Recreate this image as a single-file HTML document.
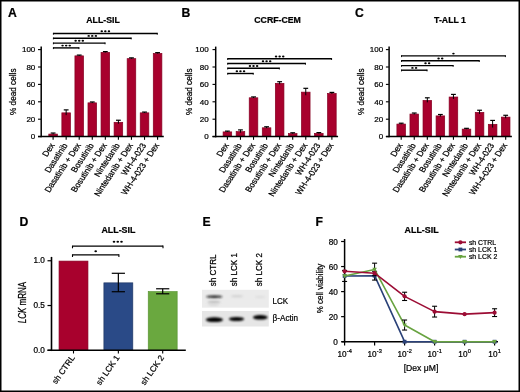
<!DOCTYPE html>
<html><head><meta charset="utf-8"><style>
html,body{margin:0;padding:0;background:#fff;}
svg{display:block;will-change:transform;font-family:"Liberation Sans", sans-serif;}
text{stroke:#000;stroke-width:0.22px;}
</style></head><body>
<svg width="520" height="392" viewBox="0 0 520 392">
<rect x="0" y="0" width="520" height="392" fill="#fff"/>
<text x="8.00" y="16.60" font-size="12.2" text-anchor="start" font-weight="bold" fill="#000">A</text>
<text transform="translate(103.00 22.90) scale(1.03 1)" font-size="8.5" text-anchor="middle" font-weight="bold" fill="#000">ALL-SIL</text>
<rect x="48.80" y="134.08" width="8.60" height="2.17" fill="#a8012d" stroke="#860022" stroke-width="0.7"/>
<rect x="61.86" y="112.85" width="8.60" height="23.40" fill="#a8012d" stroke="#860022" stroke-width="0.7"/>
<rect x="74.92" y="55.87" width="8.60" height="80.38" fill="#a8012d" stroke="#860022" stroke-width="0.7"/>
<rect x="87.98" y="102.85" width="8.60" height="33.40" fill="#a8012d" stroke="#860022" stroke-width="0.7"/>
<rect x="101.04" y="52.39" width="8.60" height="83.86" fill="#a8012d" stroke="#860022" stroke-width="0.7"/>
<rect x="114.10" y="122.33" width="8.60" height="13.92" fill="#a8012d" stroke="#860022" stroke-width="0.7"/>
<rect x="127.16" y="58.65" width="8.60" height="77.60" fill="#a8012d" stroke="#860022" stroke-width="0.7"/>
<rect x="140.22" y="112.85" width="8.60" height="23.40" fill="#a8012d" stroke="#860022" stroke-width="0.7"/>
<rect x="153.28" y="53.43" width="8.60" height="82.82" fill="#a8012d" stroke="#860022" stroke-width="0.7"/>
<line x1="53.10" y1="133.03" x2="53.10" y2="134.42" stroke="#000" stroke-width="1.0" stroke-linecap="butt"/>
<line x1="50.70" y1="133.03" x2="55.50" y2="133.03" stroke="#000" stroke-width="1.2" stroke-linecap="butt"/>
<line x1="66.16" y1="109.89" x2="66.16" y2="115.11" stroke="#000" stroke-width="1.0" stroke-linecap="butt"/>
<line x1="63.76" y1="109.89" x2="68.56" y2="109.89" stroke="#000" stroke-width="1.2" stroke-linecap="butt"/>
<line x1="79.22" y1="55.08" x2="79.22" y2="55.95" stroke="#000" stroke-width="1.0" stroke-linecap="butt"/>
<line x1="76.82" y1="55.08" x2="81.62" y2="55.08" stroke="#000" stroke-width="1.2" stroke-linecap="butt"/>
<line x1="92.28" y1="101.97" x2="92.28" y2="103.02" stroke="#000" stroke-width="1.0" stroke-linecap="butt"/>
<line x1="89.88" y1="101.97" x2="94.68" y2="101.97" stroke="#000" stroke-width="1.2" stroke-linecap="butt"/>
<line x1="105.34" y1="51.60" x2="105.34" y2="52.47" stroke="#000" stroke-width="1.0" stroke-linecap="butt"/>
<line x1="102.94" y1="51.60" x2="107.74" y2="51.60" stroke="#000" stroke-width="1.2" stroke-linecap="butt"/>
<line x1="118.40" y1="120.24" x2="118.40" y2="123.72" stroke="#000" stroke-width="1.0" stroke-linecap="butt"/>
<line x1="116.00" y1="120.24" x2="120.80" y2="120.24" stroke="#000" stroke-width="1.2" stroke-linecap="butt"/>
<line x1="131.46" y1="57.86" x2="131.46" y2="58.73" stroke="#000" stroke-width="1.0" stroke-linecap="butt"/>
<line x1="129.06" y1="57.86" x2="133.86" y2="57.86" stroke="#000" stroke-width="1.2" stroke-linecap="butt"/>
<line x1="144.52" y1="112.07" x2="144.52" y2="112.94" stroke="#000" stroke-width="1.0" stroke-linecap="butt"/>
<line x1="142.12" y1="112.07" x2="146.92" y2="112.07" stroke="#000" stroke-width="1.2" stroke-linecap="butt"/>
<line x1="157.58" y1="52.64" x2="157.58" y2="53.52" stroke="#000" stroke-width="1.0" stroke-linecap="butt"/>
<line x1="155.18" y1="52.64" x2="159.98" y2="52.64" stroke="#000" stroke-width="1.2" stroke-linecap="butt"/>
<line x1="41.20" y1="46.60" x2="41.20" y2="137.35" stroke="#000" stroke-width="1.5" stroke-linecap="butt"/>
<line x1="38.00" y1="136.60" x2="163.78" y2="136.60" stroke="#000" stroke-width="1.5" stroke-linecap="butt"/>
<line x1="38.00" y1="136.60" x2="41.00" y2="136.60" stroke="#000" stroke-width="1.1" stroke-linecap="butt"/>
<text x="35.30" y="139.45" font-size="8.0" text-anchor="end" font-weight="normal" fill="#000">0</text>
<line x1="38.00" y1="119.20" x2="41.00" y2="119.20" stroke="#000" stroke-width="1.1" stroke-linecap="butt"/>
<text x="35.30" y="122.05" font-size="8.0" text-anchor="end" font-weight="normal" fill="#000">20</text>
<line x1="38.00" y1="101.80" x2="41.00" y2="101.80" stroke="#000" stroke-width="1.1" stroke-linecap="butt"/>
<text x="35.30" y="104.65" font-size="8.0" text-anchor="end" font-weight="normal" fill="#000">40</text>
<line x1="38.00" y1="84.40" x2="41.00" y2="84.40" stroke="#000" stroke-width="1.1" stroke-linecap="butt"/>
<text x="35.30" y="87.25" font-size="8.0" text-anchor="end" font-weight="normal" fill="#000">60</text>
<line x1="38.00" y1="67.00" x2="41.00" y2="67.00" stroke="#000" stroke-width="1.1" stroke-linecap="butt"/>
<text x="35.30" y="69.85" font-size="8.0" text-anchor="end" font-weight="normal" fill="#000">80</text>
<line x1="38.00" y1="49.60" x2="41.00" y2="49.60" stroke="#000" stroke-width="1.1" stroke-linecap="butt"/>
<text x="35.30" y="52.45" font-size="8.0" text-anchor="end" font-weight="normal" fill="#000">100</text>
<line x1="53.10" y1="136.60" x2="53.10" y2="139.80" stroke="#000" stroke-width="1.1" stroke-linecap="butt"/>
<line x1="66.16" y1="136.60" x2="66.16" y2="139.80" stroke="#000" stroke-width="1.1" stroke-linecap="butt"/>
<line x1="79.22" y1="136.60" x2="79.22" y2="139.80" stroke="#000" stroke-width="1.1" stroke-linecap="butt"/>
<line x1="92.28" y1="136.60" x2="92.28" y2="139.80" stroke="#000" stroke-width="1.1" stroke-linecap="butt"/>
<line x1="105.34" y1="136.60" x2="105.34" y2="139.80" stroke="#000" stroke-width="1.1" stroke-linecap="butt"/>
<line x1="118.40" y1="136.60" x2="118.40" y2="139.80" stroke="#000" stroke-width="1.1" stroke-linecap="butt"/>
<line x1="131.46" y1="136.60" x2="131.46" y2="139.80" stroke="#000" stroke-width="1.1" stroke-linecap="butt"/>
<line x1="144.52" y1="136.60" x2="144.52" y2="139.80" stroke="#000" stroke-width="1.1" stroke-linecap="butt"/>
<line x1="157.58" y1="136.60" x2="157.58" y2="139.80" stroke="#000" stroke-width="1.1" stroke-linecap="butt"/>
<text transform="translate(55.00 145.20) scale(1.15 1) rotate(-60)" font-size="7.8" text-anchor="end" font-weight="normal" fill="#000">Dex</text>
<text transform="translate(68.06 145.20) scale(1.15 1) rotate(-60)" font-size="7.8" text-anchor="end" font-weight="normal" fill="#000">Dasatinib</text>
<text transform="translate(81.12 145.20) scale(1.15 1) rotate(-60)" font-size="7.8" text-anchor="end" font-weight="normal" fill="#000">Dasatinib + Dex</text>
<text transform="translate(94.18 145.20) scale(1.15 1) rotate(-60)" font-size="7.8" text-anchor="end" font-weight="normal" fill="#000">Bosutinib</text>
<text transform="translate(107.24 145.20) scale(1.15 1) rotate(-60)" font-size="7.8" text-anchor="end" font-weight="normal" fill="#000">Bosutinib + Dex</text>
<text transform="translate(120.30 145.20) scale(1.15 1) rotate(-60)" font-size="7.8" text-anchor="end" font-weight="normal" fill="#000">Nintedanib</text>
<text transform="translate(133.36 145.20) scale(1.15 1) rotate(-60)" font-size="7.8" text-anchor="end" font-weight="normal" fill="#000">Nintedanib + Dex</text>
<text transform="translate(146.42 145.20) scale(1.15 1) rotate(-60)" font-size="7.8" text-anchor="end" font-weight="normal" fill="#000">WH-4-023</text>
<text transform="translate(159.48 145.20) scale(1.15 1) rotate(-60)" font-size="7.8" text-anchor="end" font-weight="normal" fill="#000">WH-4-023 + Dex</text>
<text transform="translate(15.60 91.75) scale(1.15 1) rotate(-90)" font-size="8.2" text-anchor="middle" font-weight="normal" fill="#000">% dead cells</text>
<line x1="53.10" y1="33.50" x2="157.58" y2="33.50" stroke="#000" stroke-width="1.4" stroke-linecap="butt"/>
<line x1="53.40" y1="32.90" x2="53.40" y2="34.70" stroke="#000" stroke-width="0.9" stroke-linecap="butt"/>
<line x1="157.28" y1="32.90" x2="157.28" y2="34.70" stroke="#000" stroke-width="0.9" stroke-linecap="butt"/>
<ellipse cx="101.74" cy="31.20" rx="1.25" ry="0.95" fill="#000"/>
<ellipse cx="105.34" cy="31.20" rx="1.25" ry="0.95" fill="#000"/>
<ellipse cx="108.94" cy="31.20" rx="1.25" ry="0.95" fill="#000"/>
<line x1="53.10" y1="38.20" x2="131.46" y2="38.20" stroke="#000" stroke-width="1.4" stroke-linecap="butt"/>
<line x1="53.40" y1="37.60" x2="53.40" y2="39.40" stroke="#000" stroke-width="0.9" stroke-linecap="butt"/>
<line x1="131.16" y1="37.60" x2="131.16" y2="39.40" stroke="#000" stroke-width="0.9" stroke-linecap="butt"/>
<ellipse cx="88.68" cy="35.90" rx="1.25" ry="0.95" fill="#000"/>
<ellipse cx="92.28" cy="35.90" rx="1.25" ry="0.95" fill="#000"/>
<ellipse cx="95.88" cy="35.90" rx="1.25" ry="0.95" fill="#000"/>
<line x1="53.10" y1="43.10" x2="105.34" y2="43.10" stroke="#000" stroke-width="1.4" stroke-linecap="butt"/>
<line x1="53.40" y1="42.50" x2="53.40" y2="44.30" stroke="#000" stroke-width="0.9" stroke-linecap="butt"/>
<line x1="105.04" y1="42.50" x2="105.04" y2="44.30" stroke="#000" stroke-width="0.9" stroke-linecap="butt"/>
<ellipse cx="75.62" cy="40.80" rx="1.25" ry="0.95" fill="#000"/>
<ellipse cx="79.22" cy="40.80" rx="1.25" ry="0.95" fill="#000"/>
<ellipse cx="82.82" cy="40.80" rx="1.25" ry="0.95" fill="#000"/>
<line x1="53.10" y1="47.90" x2="79.22" y2="47.90" stroke="#000" stroke-width="1.4" stroke-linecap="butt"/>
<line x1="53.40" y1="47.30" x2="53.40" y2="49.10" stroke="#000" stroke-width="0.9" stroke-linecap="butt"/>
<line x1="78.92" y1="47.30" x2="78.92" y2="49.10" stroke="#000" stroke-width="0.9" stroke-linecap="butt"/>
<ellipse cx="62.56" cy="45.60" rx="1.25" ry="0.95" fill="#000"/>
<ellipse cx="66.16" cy="45.60" rx="1.25" ry="0.95" fill="#000"/>
<ellipse cx="69.76" cy="45.60" rx="1.25" ry="0.95" fill="#000"/>
<text x="181.50" y="16.60" font-size="12.2" text-anchor="start" font-weight="bold" fill="#000">B</text>
<text transform="translate(277.60 22.90) scale(1.03 1)" font-size="8.5" text-anchor="middle" font-weight="bold" fill="#000">CCRF-CEM</text>
<rect x="223.10" y="131.90" width="8.60" height="4.35" fill="#a8012d" stroke="#860022" stroke-width="0.7"/>
<rect x="236.16" y="131.64" width="8.60" height="4.61" fill="#a8012d" stroke="#860022" stroke-width="0.7"/>
<rect x="249.22" y="97.80" width="8.60" height="38.45" fill="#a8012d" stroke="#860022" stroke-width="0.7"/>
<rect x="262.28" y="127.81" width="8.60" height="8.44" fill="#a8012d" stroke="#860022" stroke-width="0.7"/>
<rect x="275.34" y="83.36" width="8.60" height="52.89" fill="#a8012d" stroke="#860022" stroke-width="0.7"/>
<rect x="288.40" y="133.64" width="8.60" height="2.61" fill="#a8012d" stroke="#860022" stroke-width="0.7"/>
<rect x="301.46" y="92.14" width="8.60" height="44.11" fill="#a8012d" stroke="#860022" stroke-width="0.7"/>
<rect x="314.52" y="133.38" width="8.60" height="2.87" fill="#a8012d" stroke="#860022" stroke-width="0.7"/>
<rect x="327.58" y="93.45" width="8.60" height="42.80" fill="#a8012d" stroke="#860022" stroke-width="0.7"/>
<line x1="227.40" y1="131.12" x2="227.40" y2="131.99" stroke="#000" stroke-width="1.0" stroke-linecap="butt"/>
<line x1="225.00" y1="131.12" x2="229.80" y2="131.12" stroke="#000" stroke-width="1.2" stroke-linecap="butt"/>
<line x1="240.46" y1="129.90" x2="240.46" y2="132.69" stroke="#000" stroke-width="1.0" stroke-linecap="butt"/>
<line x1="238.06" y1="129.90" x2="242.86" y2="129.90" stroke="#000" stroke-width="1.2" stroke-linecap="butt"/>
<line x1="253.52" y1="96.93" x2="253.52" y2="97.97" stroke="#000" stroke-width="1.0" stroke-linecap="butt"/>
<line x1="251.12" y1="96.93" x2="255.92" y2="96.93" stroke="#000" stroke-width="1.2" stroke-linecap="butt"/>
<line x1="266.58" y1="126.77" x2="266.58" y2="128.16" stroke="#000" stroke-width="1.0" stroke-linecap="butt"/>
<line x1="264.18" y1="126.77" x2="268.98" y2="126.77" stroke="#000" stroke-width="1.2" stroke-linecap="butt"/>
<line x1="279.64" y1="81.70" x2="279.64" y2="84.31" stroke="#000" stroke-width="1.0" stroke-linecap="butt"/>
<line x1="277.24" y1="81.70" x2="282.04" y2="81.70" stroke="#000" stroke-width="1.2" stroke-linecap="butt"/>
<line x1="292.70" y1="132.77" x2="292.70" y2="133.82" stroke="#000" stroke-width="1.0" stroke-linecap="butt"/>
<line x1="290.30" y1="132.77" x2="295.10" y2="132.77" stroke="#000" stroke-width="1.2" stroke-linecap="butt"/>
<line x1="305.76" y1="88.31" x2="305.76" y2="95.27" stroke="#000" stroke-width="1.0" stroke-linecap="butt"/>
<line x1="303.36" y1="88.31" x2="308.16" y2="88.31" stroke="#000" stroke-width="1.2" stroke-linecap="butt"/>
<line x1="318.82" y1="132.60" x2="318.82" y2="133.47" stroke="#000" stroke-width="1.0" stroke-linecap="butt"/>
<line x1="316.42" y1="132.60" x2="321.22" y2="132.60" stroke="#000" stroke-width="1.2" stroke-linecap="butt"/>
<line x1="331.88" y1="92.40" x2="331.88" y2="93.80" stroke="#000" stroke-width="1.0" stroke-linecap="butt"/>
<line x1="329.48" y1="92.40" x2="334.28" y2="92.40" stroke="#000" stroke-width="1.2" stroke-linecap="butt"/>
<line x1="215.70" y1="46.60" x2="215.70" y2="137.35" stroke="#000" stroke-width="1.5" stroke-linecap="butt"/>
<line x1="212.50" y1="136.60" x2="338.08" y2="136.60" stroke="#000" stroke-width="1.5" stroke-linecap="butt"/>
<line x1="212.50" y1="136.60" x2="215.50" y2="136.60" stroke="#000" stroke-width="1.1" stroke-linecap="butt"/>
<text x="208.60" y="139.45" font-size="8.0" text-anchor="end" font-weight="normal" fill="#000">0</text>
<line x1="212.50" y1="119.20" x2="215.50" y2="119.20" stroke="#000" stroke-width="1.1" stroke-linecap="butt"/>
<text x="208.60" y="122.05" font-size="8.0" text-anchor="end" font-weight="normal" fill="#000">20</text>
<line x1="212.50" y1="101.80" x2="215.50" y2="101.80" stroke="#000" stroke-width="1.1" stroke-linecap="butt"/>
<text x="208.60" y="104.65" font-size="8.0" text-anchor="end" font-weight="normal" fill="#000">40</text>
<line x1="212.50" y1="84.40" x2="215.50" y2="84.40" stroke="#000" stroke-width="1.1" stroke-linecap="butt"/>
<text x="208.60" y="87.25" font-size="8.0" text-anchor="end" font-weight="normal" fill="#000">60</text>
<line x1="212.50" y1="67.00" x2="215.50" y2="67.00" stroke="#000" stroke-width="1.1" stroke-linecap="butt"/>
<text x="208.60" y="69.85" font-size="8.0" text-anchor="end" font-weight="normal" fill="#000">80</text>
<line x1="212.50" y1="49.60" x2="215.50" y2="49.60" stroke="#000" stroke-width="1.1" stroke-linecap="butt"/>
<text x="208.60" y="52.45" font-size="8.0" text-anchor="end" font-weight="normal" fill="#000">100</text>
<line x1="227.40" y1="136.60" x2="227.40" y2="139.80" stroke="#000" stroke-width="1.1" stroke-linecap="butt"/>
<line x1="240.46" y1="136.60" x2="240.46" y2="139.80" stroke="#000" stroke-width="1.1" stroke-linecap="butt"/>
<line x1="253.52" y1="136.60" x2="253.52" y2="139.80" stroke="#000" stroke-width="1.1" stroke-linecap="butt"/>
<line x1="266.58" y1="136.60" x2="266.58" y2="139.80" stroke="#000" stroke-width="1.1" stroke-linecap="butt"/>
<line x1="279.64" y1="136.60" x2="279.64" y2="139.80" stroke="#000" stroke-width="1.1" stroke-linecap="butt"/>
<line x1="292.70" y1="136.60" x2="292.70" y2="139.80" stroke="#000" stroke-width="1.1" stroke-linecap="butt"/>
<line x1="305.76" y1="136.60" x2="305.76" y2="139.80" stroke="#000" stroke-width="1.1" stroke-linecap="butt"/>
<line x1="318.82" y1="136.60" x2="318.82" y2="139.80" stroke="#000" stroke-width="1.1" stroke-linecap="butt"/>
<line x1="331.88" y1="136.60" x2="331.88" y2="139.80" stroke="#000" stroke-width="1.1" stroke-linecap="butt"/>
<text transform="translate(229.30 145.20) scale(1.15 1) rotate(-60)" font-size="7.8" text-anchor="end" font-weight="normal" fill="#000">Dex</text>
<text transform="translate(242.36 145.20) scale(1.15 1) rotate(-60)" font-size="7.8" text-anchor="end" font-weight="normal" fill="#000">Dasatinib</text>
<text transform="translate(255.42 145.20) scale(1.15 1) rotate(-60)" font-size="7.8" text-anchor="end" font-weight="normal" fill="#000">Dasatinib + Dex</text>
<text transform="translate(268.48 145.20) scale(1.15 1) rotate(-60)" font-size="7.8" text-anchor="end" font-weight="normal" fill="#000">Bosutinib</text>
<text transform="translate(281.54 145.20) scale(1.15 1) rotate(-60)" font-size="7.8" text-anchor="end" font-weight="normal" fill="#000">Bosutinib + Dex</text>
<text transform="translate(294.60 145.20) scale(1.15 1) rotate(-60)" font-size="7.8" text-anchor="end" font-weight="normal" fill="#000">Nintedanib</text>
<text transform="translate(307.66 145.20) scale(1.15 1) rotate(-60)" font-size="7.8" text-anchor="end" font-weight="normal" fill="#000">Nintedanib + Dex</text>
<text transform="translate(320.72 145.20) scale(1.15 1) rotate(-60)" font-size="7.8" text-anchor="end" font-weight="normal" fill="#000">WH-4-023</text>
<text transform="translate(333.78 145.20) scale(1.15 1) rotate(-60)" font-size="7.8" text-anchor="end" font-weight="normal" fill="#000">WH-4-023 + Dex</text>
<text transform="translate(191.70 91.75) scale(1.15 1) rotate(-90)" font-size="8.2" text-anchor="middle" font-weight="normal" fill="#000">% dead cells</text>
<line x1="227.40" y1="58.80" x2="331.88" y2="58.80" stroke="#000" stroke-width="1.4" stroke-linecap="butt"/>
<line x1="227.70" y1="58.20" x2="227.70" y2="60.00" stroke="#000" stroke-width="0.9" stroke-linecap="butt"/>
<line x1="331.58" y1="58.20" x2="331.58" y2="60.00" stroke="#000" stroke-width="0.9" stroke-linecap="butt"/>
<ellipse cx="276.04" cy="56.50" rx="1.25" ry="0.95" fill="#000"/>
<ellipse cx="279.64" cy="56.50" rx="1.25" ry="0.95" fill="#000"/>
<ellipse cx="283.24" cy="56.50" rx="1.25" ry="0.95" fill="#000"/>
<line x1="227.40" y1="63.50" x2="305.76" y2="63.50" stroke="#000" stroke-width="1.4" stroke-linecap="butt"/>
<line x1="227.70" y1="62.90" x2="227.70" y2="64.70" stroke="#000" stroke-width="0.9" stroke-linecap="butt"/>
<line x1="305.46" y1="62.90" x2="305.46" y2="64.70" stroke="#000" stroke-width="0.9" stroke-linecap="butt"/>
<ellipse cx="262.98" cy="61.20" rx="1.25" ry="0.95" fill="#000"/>
<ellipse cx="266.58" cy="61.20" rx="1.25" ry="0.95" fill="#000"/>
<ellipse cx="270.18" cy="61.20" rx="1.25" ry="0.95" fill="#000"/>
<line x1="227.40" y1="68.30" x2="279.64" y2="68.30" stroke="#000" stroke-width="1.4" stroke-linecap="butt"/>
<line x1="227.70" y1="67.70" x2="227.70" y2="69.50" stroke="#000" stroke-width="0.9" stroke-linecap="butt"/>
<line x1="279.34" y1="67.70" x2="279.34" y2="69.50" stroke="#000" stroke-width="0.9" stroke-linecap="butt"/>
<ellipse cx="249.92" cy="66.00" rx="1.25" ry="0.95" fill="#000"/>
<ellipse cx="253.52" cy="66.00" rx="1.25" ry="0.95" fill="#000"/>
<ellipse cx="257.12" cy="66.00" rx="1.25" ry="0.95" fill="#000"/>
<line x1="227.40" y1="73.50" x2="253.52" y2="73.50" stroke="#000" stroke-width="1.4" stroke-linecap="butt"/>
<line x1="227.70" y1="72.90" x2="227.70" y2="74.70" stroke="#000" stroke-width="0.9" stroke-linecap="butt"/>
<line x1="253.22" y1="72.90" x2="253.22" y2="74.70" stroke="#000" stroke-width="0.9" stroke-linecap="butt"/>
<ellipse cx="236.86" cy="71.20" rx="1.25" ry="0.95" fill="#000"/>
<ellipse cx="240.46" cy="71.20" rx="1.25" ry="0.95" fill="#000"/>
<ellipse cx="244.06" cy="71.20" rx="1.25" ry="0.95" fill="#000"/>
<text x="355.00" y="16.60" font-size="12.2" text-anchor="start" font-weight="bold" fill="#000">C</text>
<text transform="translate(450.00 22.90) scale(1.03 1)" font-size="8.5" text-anchor="middle" font-weight="bold" fill="#000">T-ALL 1</text>
<rect x="396.90" y="124.07" width="8.60" height="12.18" fill="#a8012d" stroke="#860022" stroke-width="0.7"/>
<rect x="409.96" y="114.07" width="8.60" height="22.18" fill="#a8012d" stroke="#860022" stroke-width="0.7"/>
<rect x="423.02" y="100.41" width="8.60" height="35.84" fill="#a8012d" stroke="#860022" stroke-width="0.7"/>
<rect x="436.08" y="115.90" width="8.60" height="20.35" fill="#a8012d" stroke="#860022" stroke-width="0.7"/>
<rect x="449.14" y="97.02" width="8.60" height="39.23" fill="#a8012d" stroke="#860022" stroke-width="0.7"/>
<rect x="462.20" y="129.12" width="8.60" height="7.13" fill="#a8012d" stroke="#860022" stroke-width="0.7"/>
<rect x="475.26" y="112.42" width="8.60" height="23.83" fill="#a8012d" stroke="#860022" stroke-width="0.7"/>
<rect x="488.32" y="124.33" width="8.60" height="11.91" fill="#a8012d" stroke="#860022" stroke-width="0.7"/>
<rect x="501.38" y="117.11" width="8.60" height="19.14" fill="#a8012d" stroke="#860022" stroke-width="0.7"/>
<line x1="401.20" y1="123.20" x2="401.20" y2="124.25" stroke="#000" stroke-width="1.0" stroke-linecap="butt"/>
<line x1="398.80" y1="123.20" x2="403.60" y2="123.20" stroke="#000" stroke-width="1.2" stroke-linecap="butt"/>
<line x1="414.26" y1="113.02" x2="414.26" y2="114.41" stroke="#000" stroke-width="1.0" stroke-linecap="butt"/>
<line x1="411.86" y1="113.02" x2="416.66" y2="113.02" stroke="#000" stroke-width="1.2" stroke-linecap="butt"/>
<line x1="427.32" y1="97.80" x2="427.32" y2="102.32" stroke="#000" stroke-width="1.0" stroke-linecap="butt"/>
<line x1="424.92" y1="97.80" x2="429.72" y2="97.80" stroke="#000" stroke-width="1.2" stroke-linecap="butt"/>
<line x1="440.38" y1="114.50" x2="440.38" y2="116.59" stroke="#000" stroke-width="1.0" stroke-linecap="butt"/>
<line x1="437.98" y1="114.50" x2="442.78" y2="114.50" stroke="#000" stroke-width="1.2" stroke-linecap="butt"/>
<line x1="453.44" y1="94.41" x2="453.44" y2="98.93" stroke="#000" stroke-width="1.0" stroke-linecap="butt"/>
<line x1="451.04" y1="94.41" x2="455.84" y2="94.41" stroke="#000" stroke-width="1.2" stroke-linecap="butt"/>
<line x1="466.50" y1="128.33" x2="466.50" y2="129.20" stroke="#000" stroke-width="1.0" stroke-linecap="butt"/>
<line x1="464.10" y1="128.33" x2="468.90" y2="128.33" stroke="#000" stroke-width="1.2" stroke-linecap="butt"/>
<line x1="479.56" y1="110.24" x2="479.56" y2="113.89" stroke="#000" stroke-width="1.0" stroke-linecap="butt"/>
<line x1="477.16" y1="110.24" x2="481.96" y2="110.24" stroke="#000" stroke-width="1.2" stroke-linecap="butt"/>
<line x1="492.62" y1="120.42" x2="492.62" y2="127.55" stroke="#000" stroke-width="1.0" stroke-linecap="butt"/>
<line x1="490.22" y1="120.42" x2="495.02" y2="120.42" stroke="#000" stroke-width="1.2" stroke-linecap="butt"/>
<line x1="505.68" y1="115.28" x2="505.68" y2="118.24" stroke="#000" stroke-width="1.0" stroke-linecap="butt"/>
<line x1="503.28" y1="115.28" x2="508.08" y2="115.28" stroke="#000" stroke-width="1.2" stroke-linecap="butt"/>
<line x1="389.10" y1="46.60" x2="389.10" y2="137.35" stroke="#000" stroke-width="1.5" stroke-linecap="butt"/>
<line x1="385.90" y1="136.60" x2="511.88" y2="136.60" stroke="#000" stroke-width="1.5" stroke-linecap="butt"/>
<line x1="385.90" y1="136.60" x2="388.90" y2="136.60" stroke="#000" stroke-width="1.1" stroke-linecap="butt"/>
<text x="383.20" y="139.45" font-size="8.0" text-anchor="end" font-weight="normal" fill="#000">0</text>
<line x1="385.90" y1="119.20" x2="388.90" y2="119.20" stroke="#000" stroke-width="1.1" stroke-linecap="butt"/>
<text x="383.20" y="122.05" font-size="8.0" text-anchor="end" font-weight="normal" fill="#000">20</text>
<line x1="385.90" y1="101.80" x2="388.90" y2="101.80" stroke="#000" stroke-width="1.1" stroke-linecap="butt"/>
<text x="383.20" y="104.65" font-size="8.0" text-anchor="end" font-weight="normal" fill="#000">40</text>
<line x1="385.90" y1="84.40" x2="388.90" y2="84.40" stroke="#000" stroke-width="1.1" stroke-linecap="butt"/>
<text x="383.20" y="87.25" font-size="8.0" text-anchor="end" font-weight="normal" fill="#000">60</text>
<line x1="385.90" y1="67.00" x2="388.90" y2="67.00" stroke="#000" stroke-width="1.1" stroke-linecap="butt"/>
<text x="383.20" y="69.85" font-size="8.0" text-anchor="end" font-weight="normal" fill="#000">80</text>
<line x1="385.90" y1="49.60" x2="388.90" y2="49.60" stroke="#000" stroke-width="1.1" stroke-linecap="butt"/>
<text x="383.20" y="52.45" font-size="8.0" text-anchor="end" font-weight="normal" fill="#000">100</text>
<line x1="401.20" y1="136.60" x2="401.20" y2="139.80" stroke="#000" stroke-width="1.1" stroke-linecap="butt"/>
<line x1="414.26" y1="136.60" x2="414.26" y2="139.80" stroke="#000" stroke-width="1.1" stroke-linecap="butt"/>
<line x1="427.32" y1="136.60" x2="427.32" y2="139.80" stroke="#000" stroke-width="1.1" stroke-linecap="butt"/>
<line x1="440.38" y1="136.60" x2="440.38" y2="139.80" stroke="#000" stroke-width="1.1" stroke-linecap="butt"/>
<line x1="453.44" y1="136.60" x2="453.44" y2="139.80" stroke="#000" stroke-width="1.1" stroke-linecap="butt"/>
<line x1="466.50" y1="136.60" x2="466.50" y2="139.80" stroke="#000" stroke-width="1.1" stroke-linecap="butt"/>
<line x1="479.56" y1="136.60" x2="479.56" y2="139.80" stroke="#000" stroke-width="1.1" stroke-linecap="butt"/>
<line x1="492.62" y1="136.60" x2="492.62" y2="139.80" stroke="#000" stroke-width="1.1" stroke-linecap="butt"/>
<line x1="505.68" y1="136.60" x2="505.68" y2="139.80" stroke="#000" stroke-width="1.1" stroke-linecap="butt"/>
<text transform="translate(403.10 145.20) scale(1.15 1) rotate(-60)" font-size="7.8" text-anchor="end" font-weight="normal" fill="#000">Dex</text>
<text transform="translate(416.16 145.20) scale(1.15 1) rotate(-60)" font-size="7.8" text-anchor="end" font-weight="normal" fill="#000">Dasatinib</text>
<text transform="translate(429.22 145.20) scale(1.15 1) rotate(-60)" font-size="7.8" text-anchor="end" font-weight="normal" fill="#000">Dasatinib + Dex</text>
<text transform="translate(442.28 145.20) scale(1.15 1) rotate(-60)" font-size="7.8" text-anchor="end" font-weight="normal" fill="#000">Bosutinib</text>
<text transform="translate(455.34 145.20) scale(1.15 1) rotate(-60)" font-size="7.8" text-anchor="end" font-weight="normal" fill="#000">Bosutinib + Dex</text>
<text transform="translate(468.40 145.20) scale(1.15 1) rotate(-60)" font-size="7.8" text-anchor="end" font-weight="normal" fill="#000">Nintedanib</text>
<text transform="translate(481.46 145.20) scale(1.15 1) rotate(-60)" font-size="7.8" text-anchor="end" font-weight="normal" fill="#000">Nintedanib + Dex</text>
<text transform="translate(494.52 145.20) scale(1.15 1) rotate(-60)" font-size="7.8" text-anchor="end" font-weight="normal" fill="#000">WH-4-023</text>
<text transform="translate(507.58 145.20) scale(1.15 1) rotate(-60)" font-size="7.8" text-anchor="end" font-weight="normal" fill="#000">WH-4-023 + Dex</text>
<text transform="translate(363.50 91.75) scale(1.15 1) rotate(-90)" font-size="8.2" text-anchor="middle" font-weight="normal" fill="#000">% dead cells</text>
<line x1="401.20" y1="55.90" x2="505.68" y2="55.90" stroke="#000" stroke-width="1.4" stroke-linecap="butt"/>
<line x1="401.50" y1="55.30" x2="401.50" y2="57.10" stroke="#000" stroke-width="0.9" stroke-linecap="butt"/>
<line x1="505.38" y1="55.30" x2="505.38" y2="57.10" stroke="#000" stroke-width="0.9" stroke-linecap="butt"/>
<ellipse cx="453.44" cy="53.60" rx="1.25" ry="0.95" fill="#000"/>
<line x1="401.20" y1="60.80" x2="479.56" y2="60.80" stroke="#000" stroke-width="1.4" stroke-linecap="butt"/>
<line x1="401.50" y1="60.20" x2="401.50" y2="62.00" stroke="#000" stroke-width="0.9" stroke-linecap="butt"/>
<line x1="479.26" y1="60.20" x2="479.26" y2="62.00" stroke="#000" stroke-width="0.9" stroke-linecap="butt"/>
<ellipse cx="438.58" cy="58.50" rx="1.25" ry="0.95" fill="#000"/>
<ellipse cx="442.18" cy="58.50" rx="1.25" ry="0.95" fill="#000"/>
<line x1="401.20" y1="65.60" x2="453.44" y2="65.60" stroke="#000" stroke-width="1.4" stroke-linecap="butt"/>
<line x1="401.50" y1="65.00" x2="401.50" y2="66.80" stroke="#000" stroke-width="0.9" stroke-linecap="butt"/>
<line x1="453.14" y1="65.00" x2="453.14" y2="66.80" stroke="#000" stroke-width="0.9" stroke-linecap="butt"/>
<ellipse cx="425.52" cy="63.30" rx="1.25" ry="0.95" fill="#000"/>
<ellipse cx="429.12" cy="63.30" rx="1.25" ry="0.95" fill="#000"/>
<line x1="401.20" y1="70.20" x2="427.32" y2="70.20" stroke="#000" stroke-width="1.4" stroke-linecap="butt"/>
<line x1="401.50" y1="69.60" x2="401.50" y2="71.40" stroke="#000" stroke-width="0.9" stroke-linecap="butt"/>
<line x1="427.02" y1="69.60" x2="427.02" y2="71.40" stroke="#000" stroke-width="0.9" stroke-linecap="butt"/>
<ellipse cx="412.46" cy="67.90" rx="1.25" ry="0.95" fill="#000"/>
<ellipse cx="416.06" cy="67.90" rx="1.25" ry="0.95" fill="#000"/>
<text x="19.50" y="226.00" font-size="12.2" text-anchor="start" font-weight="bold" fill="#000">D</text>
<text x="118.40" y="233.10" font-size="8.9" text-anchor="middle" font-weight="bold" fill="#000">ALL-SIL</text>
<rect x="59.05" y="261.10" width="28.90" height="88.85" fill="#a8012d" stroke="#860022" stroke-width="0.7"/>
<rect x="103.90" y="282.86" width="28.90" height="67.09" fill="#2a4a87" stroke="#1f3866" stroke-width="0.7"/>
<rect x="148.25" y="291.64" width="28.90" height="58.31" fill="#6aa83f" stroke="#5a9534" stroke-width="0.7"/>
<line x1="118.35" y1="273.29" x2="118.35" y2="291.73" stroke="#000" stroke-width="1.2" stroke-linecap="butt"/>
<line x1="111.75" y1="273.29" x2="124.95" y2="273.29" stroke="#000" stroke-width="1.2" stroke-linecap="butt"/>
<line x1="111.75" y1="291.73" x2="124.95" y2="291.73" stroke="#000" stroke-width="1.2" stroke-linecap="butt"/>
<line x1="162.70" y1="288.78" x2="162.70" y2="293.79" stroke="#000" stroke-width="1.2" stroke-linecap="butt"/>
<line x1="156.10" y1="288.78" x2="169.30" y2="288.78" stroke="#000" stroke-width="1.2" stroke-linecap="butt"/>
<line x1="156.10" y1="293.79" x2="169.30" y2="293.79" stroke="#000" stroke-width="1.2" stroke-linecap="butt"/>
<line x1="51.50" y1="256.90" x2="51.50" y2="351.05" stroke="#000" stroke-width="1.6" stroke-linecap="butt"/>
<line x1="47.50" y1="350.30" x2="185.80" y2="350.30" stroke="#000" stroke-width="1.5" stroke-linecap="butt"/>
<line x1="47.50" y1="350.30" x2="51.50" y2="350.30" stroke="#000" stroke-width="1.2" stroke-linecap="butt"/>
<text x="44.90" y="352.90" font-size="8.2" text-anchor="end" font-weight="normal" fill="#000">0.0</text>
<line x1="47.50" y1="305.53" x2="51.50" y2="305.53" stroke="#000" stroke-width="1.2" stroke-linecap="butt"/>
<text x="44.90" y="308.13" font-size="8.2" text-anchor="end" font-weight="normal" fill="#000">0.5</text>
<line x1="47.50" y1="260.75" x2="51.50" y2="260.75" stroke="#000" stroke-width="1.2" stroke-linecap="butt"/>
<text x="44.90" y="263.35" font-size="8.2" text-anchor="end" font-weight="normal" fill="#000">1.0</text>
<line x1="73.50" y1="350.30" x2="73.50" y2="353.50" stroke="#000" stroke-width="1.1" stroke-linecap="butt"/>
<line x1="118.35" y1="350.30" x2="118.35" y2="353.50" stroke="#000" stroke-width="1.1" stroke-linecap="butt"/>
<line x1="162.70" y1="350.30" x2="162.70" y2="353.50" stroke="#000" stroke-width="1.1" stroke-linecap="butt"/>
<text transform="translate(75.10 357.80) rotate(-55)" font-size="8.3" text-anchor="end" font-weight="normal" fill="#000">sh CTRL</text>
<text transform="translate(119.95 357.80) rotate(-55)" font-size="8.3" text-anchor="end" font-weight="normal" fill="#000">sh LCK 1</text>
<text transform="translate(164.30 357.80) rotate(-55)" font-size="8.3" text-anchor="end" font-weight="normal" fill="#000">sh LCK 2</text>
<text font-size="8" text-anchor="middle" transform="translate(26.4 302.6) scale(1.25 1) rotate(-90)"><tspan font-style="italic">LCK</tspan> mRNA</text>
<line x1="72.50" y1="246.10" x2="163.00" y2="246.10" stroke="#000" stroke-width="1.2" stroke-linecap="butt"/>
<line x1="72.50" y1="245.60" x2="72.50" y2="248.30" stroke="#000" stroke-width="1.1" stroke-linecap="butt"/>
<line x1="163.00" y1="245.60" x2="163.00" y2="248.30" stroke="#000" stroke-width="1.1" stroke-linecap="butt"/>
<ellipse cx="114.00" cy="241.70" rx="1.3" ry="1.05" fill="#000"/>
<ellipse cx="117.75" cy="241.70" rx="1.3" ry="1.05" fill="#000"/>
<ellipse cx="121.50" cy="241.70" rx="1.3" ry="1.05" fill="#000"/>
<line x1="72.50" y1="254.80" x2="118.90" y2="254.80" stroke="#000" stroke-width="1.2" stroke-linecap="butt"/>
<line x1="72.50" y1="254.30" x2="72.50" y2="257.00" stroke="#000" stroke-width="1.1" stroke-linecap="butt"/>
<line x1="118.90" y1="254.30" x2="118.90" y2="257.00" stroke="#000" stroke-width="1.1" stroke-linecap="butt"/>
<ellipse cx="95.70" cy="251.20" rx="1.3" ry="1.05" fill="#000"/>
<text x="202.50" y="226.30" font-size="12.2" text-anchor="start" font-weight="bold" fill="#000">E</text>
<text transform="translate(216.10 286.30) scale(1.1 1) rotate(-90)" font-size="8.1" text-anchor="start" font-weight="normal" fill="#000">sh CTRL</text>
<text transform="translate(237.30 286.30) scale(1.1 1) rotate(-90)" font-size="8.1" text-anchor="start" font-weight="normal" fill="#000">sh LCK 1</text>
<text transform="translate(262.40 286.30) scale(1.1 1) rotate(-90)" font-size="8.1" text-anchor="start" font-weight="normal" fill="#000">sh LCK 2</text>
<defs><filter id="bl" x="-50%" y="-100%" width="200%" height="300%"><feGaussianBlur stdDeviation="0.9"/></filter><filter id="bl2" x="-50%" y="-100%" width="200%" height="300%"><feGaussianBlur stdDeviation="1.4"/></filter></defs>
<rect x="202.00" y="289.80" width="66.80" height="17.90" fill="#ebebeb"/>
<rect x="202.00" y="311.00" width="66.80" height="15.50" fill="#e6e6e6"/>
<ellipse cx="214.3" cy="296.7" rx="8.2" ry="1.3" fill="#1a1a1a" filter="url(#bl)"/>
<ellipse cx="214.0" cy="302.0" rx="6.5" ry="1.0" fill="#b4b4b4" filter="url(#bl)"/>
<ellipse cx="213.5" cy="304.6" rx="6" ry="0.8" fill="#cfcfcf" filter="url(#bl)"/>
<ellipse cx="237.0" cy="296.3" rx="6" ry="1.0" fill="#cdcdcd" filter="url(#bl)"/>
<ellipse cx="260.0" cy="297.0" rx="5" ry="0.9" fill="#dcdcdc" filter="url(#bl)"/>
<ellipse cx="214.4" cy="319.7" rx="8.6" ry="2.4" fill="#050505" filter="url(#bl)"/>
<ellipse cx="236.5" cy="319.0" rx="7.7" ry="2.1" fill="#050505" filter="url(#bl)"/>
<ellipse cx="260.3" cy="317.3" rx="7.4" ry="2.3" fill="#050505" filter="url(#bl)"/>
<text transform="translate(272.60 303.70) scale(0.93 1)" font-size="8.6" text-anchor="start" font-weight="normal" fill="#000">LCK</text>
<text transform="translate(272.60 320.80) scale(0.95 1)" font-size="8.6" text-anchor="start" font-weight="normal" fill="#000">&#946;-Actin</text>
<text x="315.50" y="226.00" font-size="12.2" text-anchor="start" font-weight="bold" fill="#000">F</text>
<text x="421.60" y="233.00" font-size="8.9" text-anchor="middle" font-weight="bold" fill="#000">ALL-SIL</text>
<line x1="344.60" y1="239.00" x2="344.60" y2="342.35" stroke="#000" stroke-width="1.5" stroke-linecap="butt"/>
<line x1="341.60" y1="341.70" x2="498.00" y2="341.70" stroke="#000" stroke-width="1.5" stroke-linecap="butt"/>
<line x1="341.10" y1="341.70" x2="344.60" y2="341.70" stroke="#000" stroke-width="1.2" stroke-linecap="butt"/>
<text x="337.80" y="345.10" font-size="8.2" text-anchor="end" font-weight="normal" fill="#000">0</text>
<line x1="341.10" y1="316.65" x2="344.60" y2="316.65" stroke="#000" stroke-width="1.2" stroke-linecap="butt"/>
<text x="337.80" y="320.05" font-size="8.2" text-anchor="end" font-weight="normal" fill="#000">20</text>
<line x1="341.10" y1="291.60" x2="344.60" y2="291.60" stroke="#000" stroke-width="1.2" stroke-linecap="butt"/>
<text x="337.80" y="295.00" font-size="8.2" text-anchor="end" font-weight="normal" fill="#000">40</text>
<line x1="341.10" y1="266.55" x2="344.60" y2="266.55" stroke="#000" stroke-width="1.2" stroke-linecap="butt"/>
<text x="337.80" y="269.95" font-size="8.2" text-anchor="end" font-weight="normal" fill="#000">60</text>
<line x1="341.10" y1="241.50" x2="344.60" y2="241.50" stroke="#000" stroke-width="1.2" stroke-linecap="butt"/>
<text x="337.80" y="244.90" font-size="8.2" text-anchor="end" font-weight="normal" fill="#000">80</text>
<line x1="344.60" y1="341.70" x2="344.60" y2="345.50" stroke="#000" stroke-width="1.2" stroke-linecap="butt"/>
<text x="344.60" y="356.6" font-size="8.2" text-anchor="middle">10<tspan font-size="5.6" dy="-3.9" dx="0.3">-4</tspan></text>
<line x1="374.60" y1="341.70" x2="374.60" y2="345.50" stroke="#000" stroke-width="1.2" stroke-linecap="butt"/>
<text x="374.60" y="356.6" font-size="8.2" text-anchor="middle">10<tspan font-size="5.6" dy="-3.9" dx="0.3">-3</tspan></text>
<line x1="404.60" y1="341.70" x2="404.60" y2="345.50" stroke="#000" stroke-width="1.2" stroke-linecap="butt"/>
<text x="404.60" y="356.6" font-size="8.2" text-anchor="middle">10<tspan font-size="5.6" dy="-3.9" dx="0.3">-2</tspan></text>
<line x1="434.60" y1="341.70" x2="434.60" y2="345.50" stroke="#000" stroke-width="1.2" stroke-linecap="butt"/>
<text x="434.60" y="356.6" font-size="8.2" text-anchor="middle">10<tspan font-size="5.6" dy="-3.9" dx="0.3">-1</tspan></text>
<line x1="464.60" y1="341.70" x2="464.60" y2="345.50" stroke="#000" stroke-width="1.2" stroke-linecap="butt"/>
<text x="464.60" y="356.6" font-size="8.2" text-anchor="middle">10<tspan font-size="5.6" dy="-3.9" dx="0.3">0</tspan></text>
<line x1="494.60" y1="341.70" x2="494.60" y2="345.50" stroke="#000" stroke-width="1.2" stroke-linecap="butt"/>
<text x="494.60" y="356.6" font-size="8.2" text-anchor="middle">10<tspan font-size="5.6" dy="-3.9" dx="0.3">1</tspan></text>
<text x="421.00" y="370.80" font-size="8.6" text-anchor="middle" font-weight="normal" fill="#000">[Dex &#956;M]</text>
<text transform="translate(322.50 288.50) scale(1.05 1) rotate(-90)" font-size="8.0" text-anchor="middle" font-weight="normal" fill="#000">% cell viability</text>
<path d="M344.60,275.94 L374.60,275.69 L404.60,341.70 L434.60,341.70 L464.60,341.70 L494.60,341.70" fill="none" stroke="#2a4178" stroke-width="1.6" stroke-linejoin="round"/>
<line x1="344.60" y1="270.43" x2="344.60" y2="281.45" stroke="#000" stroke-width="1.0" stroke-linecap="butt"/>
<line x1="342.10" y1="270.43" x2="347.10" y2="270.43" stroke="#000" stroke-width="1.1" stroke-linecap="butt"/>
<line x1="342.10" y1="281.45" x2="347.10" y2="281.45" stroke="#000" stroke-width="1.1" stroke-linecap="butt"/>
<line x1="374.60" y1="271.31" x2="374.60" y2="280.08" stroke="#000" stroke-width="1.0" stroke-linecap="butt"/>
<line x1="372.10" y1="271.31" x2="377.10" y2="271.31" stroke="#000" stroke-width="1.1" stroke-linecap="butt"/>
<line x1="372.10" y1="280.08" x2="377.10" y2="280.08" stroke="#000" stroke-width="1.1" stroke-linecap="butt"/>
<rect x="342.70" y="274.04" width="3.8" height="3.8" fill="#2a4178"/>
<rect x="372.70" y="273.79" width="3.8" height="3.8" fill="#2a4178"/>
<rect x="402.70" y="339.80" width="3.8" height="3.8" fill="#2a4178"/>
<rect x="432.70" y="339.80" width="3.8" height="3.8" fill="#2a4178"/>
<rect x="462.70" y="339.80" width="3.8" height="3.8" fill="#2a4178"/>
<rect x="492.70" y="339.80" width="3.8" height="3.8" fill="#2a4178"/>
<path d="M344.60,275.94 L374.60,269.43 L404.60,325.04 L434.60,341.70 L464.60,341.70 L494.60,341.70" fill="none" stroke="#68a340" stroke-width="1.6" stroke-linejoin="round"/>
<line x1="374.60" y1="263.17" x2="374.60" y2="275.69" stroke="#000" stroke-width="1.0" stroke-linecap="butt"/>
<line x1="372.10" y1="263.17" x2="377.10" y2="263.17" stroke="#000" stroke-width="1.1" stroke-linecap="butt"/>
<line x1="372.10" y1="275.69" x2="377.10" y2="275.69" stroke="#000" stroke-width="1.1" stroke-linecap="butt"/>
<line x1="404.60" y1="320.03" x2="404.60" y2="330.05" stroke="#000" stroke-width="1.0" stroke-linecap="butt"/>
<line x1="402.10" y1="320.03" x2="407.10" y2="320.03" stroke="#000" stroke-width="1.1" stroke-linecap="butt"/>
<line x1="402.10" y1="330.05" x2="407.10" y2="330.05" stroke="#000" stroke-width="1.1" stroke-linecap="butt"/>
<path d="M342.30,274.34 L346.90,274.34 L344.60,278.14Z" fill="#68a340"/>
<path d="M372.30,267.83 L376.90,267.83 L374.60,271.63Z" fill="#68a340"/>
<path d="M402.30,323.44 L406.90,323.44 L404.60,327.24Z" fill="#68a340"/>
<path d="M432.30,340.10 L436.90,340.10 L434.60,343.90Z" fill="#68a340"/>
<path d="M462.30,340.10 L466.90,340.10 L464.60,343.90Z" fill="#68a340"/>
<path d="M492.30,340.10 L496.90,340.10 L494.60,343.90Z" fill="#68a340"/>
<path d="M344.60,271.31 L374.60,273.19 L404.60,296.36 L434.60,311.64 L464.60,314.14 L494.60,312.64" fill="none" stroke="#9c0c34" stroke-width="1.6" stroke-linejoin="round"/>
<line x1="404.60" y1="292.23" x2="404.60" y2="300.49" stroke="#000" stroke-width="1.0" stroke-linecap="butt"/>
<line x1="402.10" y1="292.23" x2="407.10" y2="292.23" stroke="#000" stroke-width="1.1" stroke-linecap="butt"/>
<line x1="402.10" y1="300.49" x2="407.10" y2="300.49" stroke="#000" stroke-width="1.1" stroke-linecap="butt"/>
<line x1="434.60" y1="306.25" x2="434.60" y2="317.03" stroke="#000" stroke-width="1.0" stroke-linecap="butt"/>
<line x1="432.10" y1="306.25" x2="437.10" y2="306.25" stroke="#000" stroke-width="1.1" stroke-linecap="butt"/>
<line x1="432.10" y1="317.03" x2="437.10" y2="317.03" stroke="#000" stroke-width="1.1" stroke-linecap="butt"/>
<line x1="494.60" y1="308.76" x2="494.60" y2="316.52" stroke="#000" stroke-width="1.0" stroke-linecap="butt"/>
<line x1="492.10" y1="308.76" x2="497.10" y2="308.76" stroke="#000" stroke-width="1.1" stroke-linecap="butt"/>
<line x1="492.10" y1="316.52" x2="497.10" y2="316.52" stroke="#000" stroke-width="1.1" stroke-linecap="butt"/>
<circle cx="344.60" cy="271.31" r="2.1" fill="#9c0c34"/>
<circle cx="374.60" cy="273.19" r="2.1" fill="#9c0c34"/>
<circle cx="404.60" cy="296.36" r="2.1" fill="#9c0c34"/>
<circle cx="434.60" cy="311.64" r="2.1" fill="#9c0c34"/>
<circle cx="464.60" cy="314.14" r="2.1" fill="#9c0c34"/>
<circle cx="494.60" cy="312.64" r="2.1" fill="#9c0c34"/>
<line x1="454.80" y1="242.30" x2="466.00" y2="242.30" stroke="#9c0c34" stroke-width="1.8" stroke-linecap="butt"/>
<circle cx="460.40" cy="242.30" r="2.1" fill="#9c0c34"/>
<text transform="translate(468.90 244.80) scale(0.96 1)" font-size="7.2" text-anchor="start" font-weight="normal" fill="#000">sh CTRL</text>
<line x1="454.80" y1="249.50" x2="466.00" y2="249.50" stroke="#2a4178" stroke-width="1.8" stroke-linecap="butt"/>
<rect x="458.50" y="247.60" width="3.8" height="3.8" fill="#2a4178"/>
<text transform="translate(468.90 252.00) scale(0.96 1)" font-size="7.2" text-anchor="start" font-weight="normal" fill="#000">sh LCK 1</text>
<line x1="454.80" y1="256.70" x2="466.00" y2="256.70" stroke="#68a340" stroke-width="1.8" stroke-linecap="butt"/>
<path d="M458.10,255.10 L462.70,255.10 L460.40,258.90Z" fill="#68a340"/>
<text transform="translate(468.90 259.20) scale(0.96 1)" font-size="7.2" text-anchor="start" font-weight="normal" fill="#000">sh LCK 2</text>
<rect x="0.75" y="0.75" width="518.5" height="390.5" fill="none" stroke="#000" stroke-width="1.5"/>
</svg>
</body></html>
